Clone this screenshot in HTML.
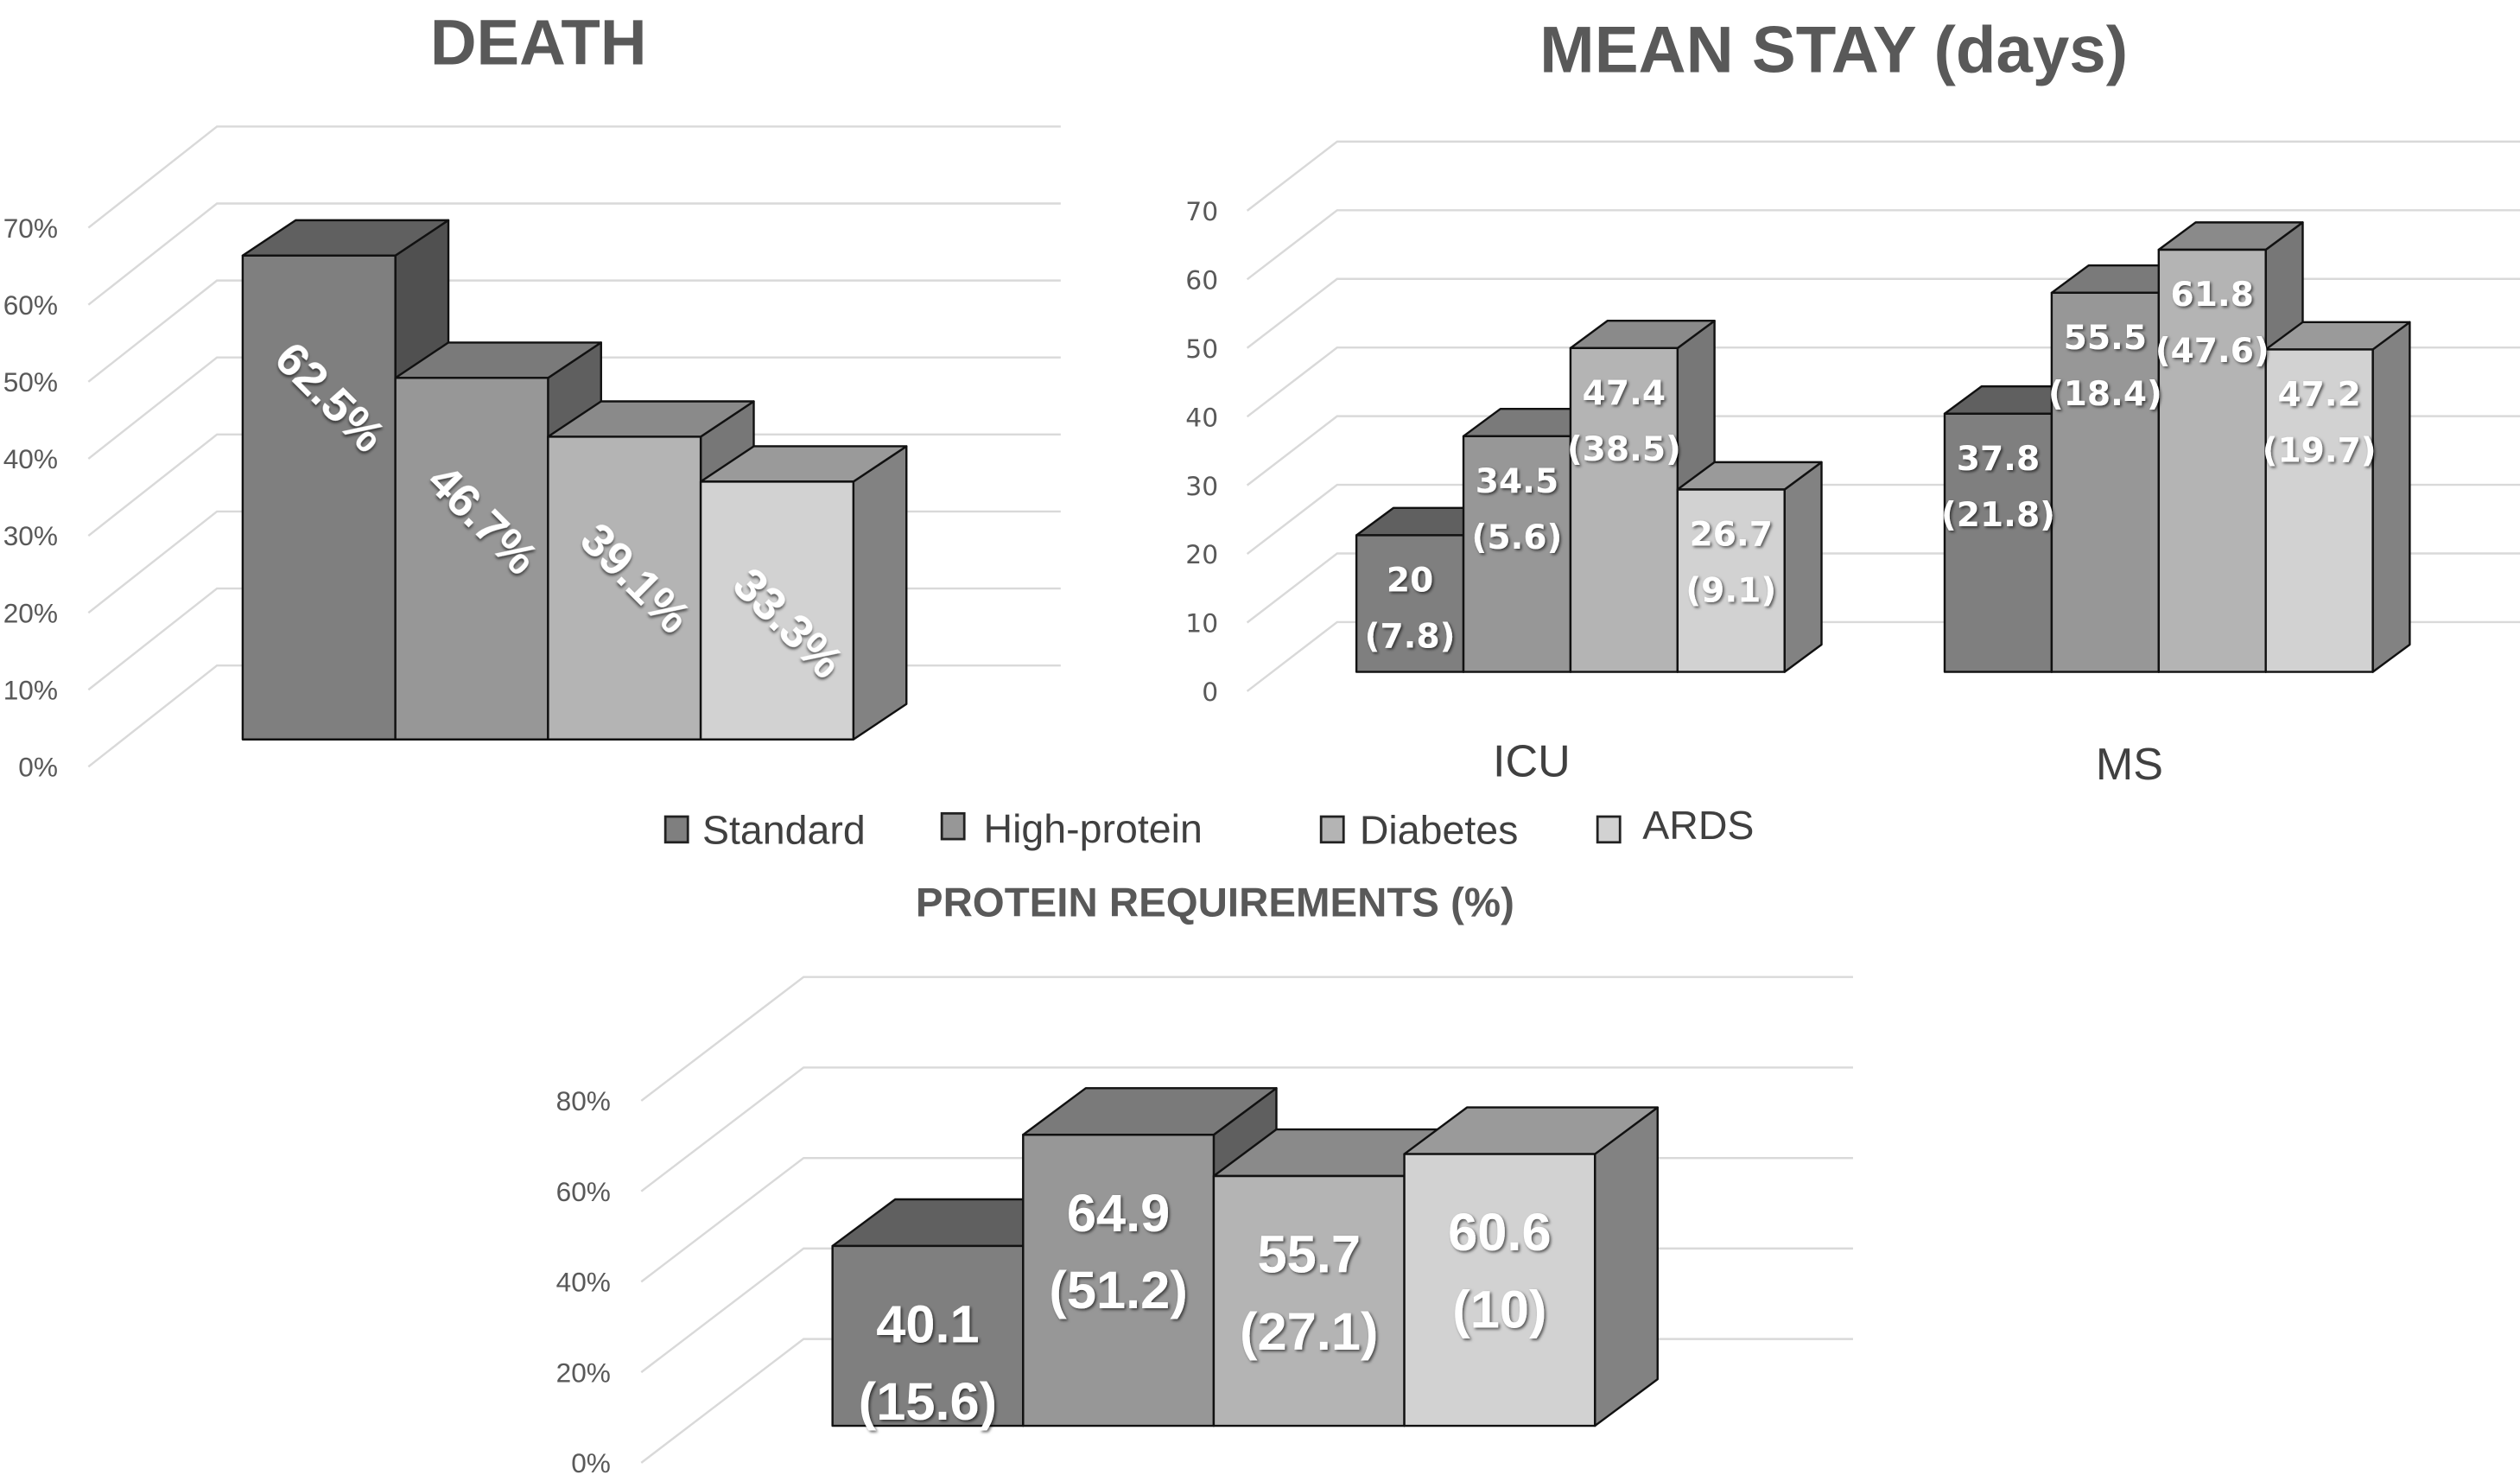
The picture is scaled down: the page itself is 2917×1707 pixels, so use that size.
<!DOCTYPE html>
<html><head><meta charset="utf-8"><style>
html,body{margin:0;padding:0;background:#fff;}
svg{display:block;}
</style></head><body>
<svg id="c" xmlns="http://www.w3.org/2000/svg" width="2917" height="1707" viewBox="0 0 1568 917.6" preserveAspectRatio="none">
<defs><filter id="sh" x="-20%" y="-20%" width="140%" height="140%"><feDropShadow dx="1" dy="1" stdDeviation="0.8" flood-color="#000" flood-opacity="0.6"/></filter></defs>
<text x="335" y="40" text-anchor="middle" font-family="Liberation Sans, sans-serif" font-weight="bold" font-size="40" fill="#595959">DEATH</text>
<text x="1141" y="45" text-anchor="middle" font-family="Liberation Sans, sans-serif" font-weight="bold" font-size="41" fill="#595959">MEAN STAY (days)</text>
<text x="756" y="570" text-anchor="middle" font-family="Liberation Sans, sans-serif" font-weight="bold" font-size="25.5" fill="#595959">PROTEIN REQUIREMENTS (%)</text>
<g font-family="Liberation Sans, sans-serif" font-size="25" fill="#404040">
<rect x="414" y="508" width="14" height="16" fill="#7f7f7f" stroke="#222" stroke-width="1.5"/>
<text x="437" y="525">Standard</text>
<rect x="586" y="506" width="14" height="16" fill="#979797" stroke="#222" stroke-width="1.5"/>
<text x="612" y="524">High-protein</text>
<rect x="822" y="508" width="14" height="16" fill="#b4b4b4" stroke="#222" stroke-width="1.5"/>
<text x="846" y="525">Diabetes</text>
<rect x="994" y="508" width="14" height="16" fill="#d2d2d2" stroke="#222" stroke-width="1.5"/>
<text x="1022" y="522">ARDS</text>
</g>
</svg>
<script>
const series = ['Standard','High-protein','Diabetes','ARDS'];
const deathValues = [62.5, 46.7, 39.1, 33.3];
const deathTicks = ['0%','10%','20%','30%','40%','50%','60%','70%'];
const stayCategories = ['ICU','MS'];
const stayMeans = [[20, 34.5, 47.4, 26.7],[37.8, 55.5, 61.8, 47.2]];
const staySD = [['7.8','5.6','38.5','9.1'],['21.8','18.4','47.6','19.7']];
const stayTicks = ['0','10','20','30','40','50','60','70'];
const proteinMeans = [40.1, 64.9, 55.7, 60.6];
const proteinSD = ['15.6','51.2','27.1','10'];
const proteinTicks = ['0%','20%','40%','60%','80%'];

const svg = document.getElementById('c');
const NS = 'http://www.w3.org/2000/svg';
const front = ['#7f7f7f','#979797','#b4b4b4','#d2d2d2'];
const top_ = ['#606060','#7a7a7a','#8a8a8a','#9a9a9a'];
const side = ['#505050','#5f5f5f','#777777','#828282'];
function mk(tag, attrs, parent){const e=document.createElementNS(NS,tag);for(const k in attrs)e.setAttribute(k,attrs[k]);(parent||svg).appendChild(e);return e;}

function axis(name, ticks, labX, lab0, labStep, gap, dxD, dyD, xEnd, fontFam, fs){
  const g = mk('g',{});
  
  
  ticks.forEach((t,i)=>{
    const ly = lab0 - i*labStep;
    const l1 = mk('polyline',{points:`${labX+gap},${ly} ${labX+gap+dxD},${ly+dyD} ${xEnd},${ly+dyD}`,fill:'none',stroke:'#d9d9d9','stroke-width':1.3},g);
    
    
    const tx = mk('text',{x:labX,y:ly+6,'text-anchor':'end','font-family':fontFam,'font-size':fs,fill:'#595959'},g);
    
    
    tx.textContent = t;
  });
}

function bar(name, x, w, yTop, yBase, dx, dy, i){
  const g = mk('g',{stroke:'#111','stroke-width':1.3,'stroke-linejoin':'round'});
  
  
  mk('polygon',{points:`${x+w},${yTop} ${x+w+dx},${yTop+dy} ${x+w+dx},${yBase+dy} ${x+w},${yBase}`,fill:side[i]},g);
  mk('polygon',{points:`${x},${yTop} ${x+dx},${yTop+dy} ${x+w+dx},${yTop+dy} ${x+w},${yTop}`,fill:top_[i]},g);
  mk('rect',{x:x,y:yTop,width:w,height:yBase-yTop,fill:front[i]},g);
}
function label(name, x, y, txt, fs, fam, rot){
  const t = mk('text',{x:x,y:y,'text-anchor':'middle','font-family':fam,'font-weight':'bold','font-size':fs,fill:'#fff',filter:'url(#sh)'});
  if(rot) t.setAttribute('transform',`rotate(${rot} ${x} ${y})`);
  
  
  t.textContent = txt;
}

/* DEATH */
axis('death-y', deathTicks, 36, 477, 47.9, 19, 80, -63, 660, 'Liberation Sans Narrow, Liberation Sans, sans-serif', 17);
const dBase = 460, dScale = 4.816, dX0 = 151, dW = 95;
const dy_ = v => dBase - v*dScale;
deathValues.forEach((v,i)=>{
  const x = dX0 + i*dW;
  bar('death-bar-'+series[i].toLowerCase(), x, dW, dy_(v), dBase, 33, -22, i);
});
deathValues.forEach((v,i)=>{
  const x = dX0 + i*dW + dW/2;
  label('death-value-label', x, dy_(v)+95, v+'%', 29, 'Liberation Sans, sans-serif', 45);
});

/* MEAN STAY */
axis('stay-y', stayTicks, 758, 430, 42.7, 18, 56, -43, 1568, 'DejaVu Sans, sans-serif', 16);
const sBase = 418, sScale = 4.25, sW = 66.6, sGroupX = [844, 1210];
const sy = v => sBase - v*sScale;
stayMeans.forEach((grp,gi)=>{
  grp.forEach((v,i)=>{
    bar('stay-bar-'+stayCategories[gi].toLowerCase()+'-'+series[i].toLowerCase(), sGroupX[gi]+i*sW, sW, sy(v), sBase, 23, -17, i);
  });
});
stayMeans.forEach((grp,gi)=>{
  grp.forEach((v,i)=>{
    const cx = sGroupX[gi]+i*sW+sW/2;
    label('stay-mean-label', cx, sy(v)+35, String(v), 21, 'DejaVu Sans, sans-serif');
    label('stay-sd-label', cx, sy(v)+70, '('+staySD[gi][i]+')', 21, 'DejaVu Sans, sans-serif');
  });
  const ct = mk('text',{x:[953,1325][gi],y:[483,485][gi],'text-anchor':'middle','font-family':'Liberation Sans, sans-serif','font-size':28,fill:'#404040'});
  
  
  ct.textContent = stayCategories[gi];
});

/* PROTEIN */
axis('protein-y', proteinTicks, 380, 910, 56.3, 19, 101, -77, 1153, 'Liberation Sans Narrow, Liberation Sans, sans-serif', 17);
const pBase = 887, pScale = 2.79, pX0 = 518, pW = 118.6;
const py = v => pBase - v*pScale;
proteinMeans.forEach((v,i)=>{
  bar('protein-bar-'+series[i].toLowerCase(), pX0+i*pW, pW, py(v), pBase, 39, -29, i);
});
proteinMeans.forEach((v,i)=>{
  const cx = pX0+i*pW+pW/2;
  label('protein-mean-label', cx, py(v)+60, String(v), 33, 'Liberation Sans, sans-serif');
  label('protein-sd-label', cx, py(v)+108, '('+proteinSD[i]+')', 33, 'Liberation Sans, sans-serif');
});
</script>
</body></html>
